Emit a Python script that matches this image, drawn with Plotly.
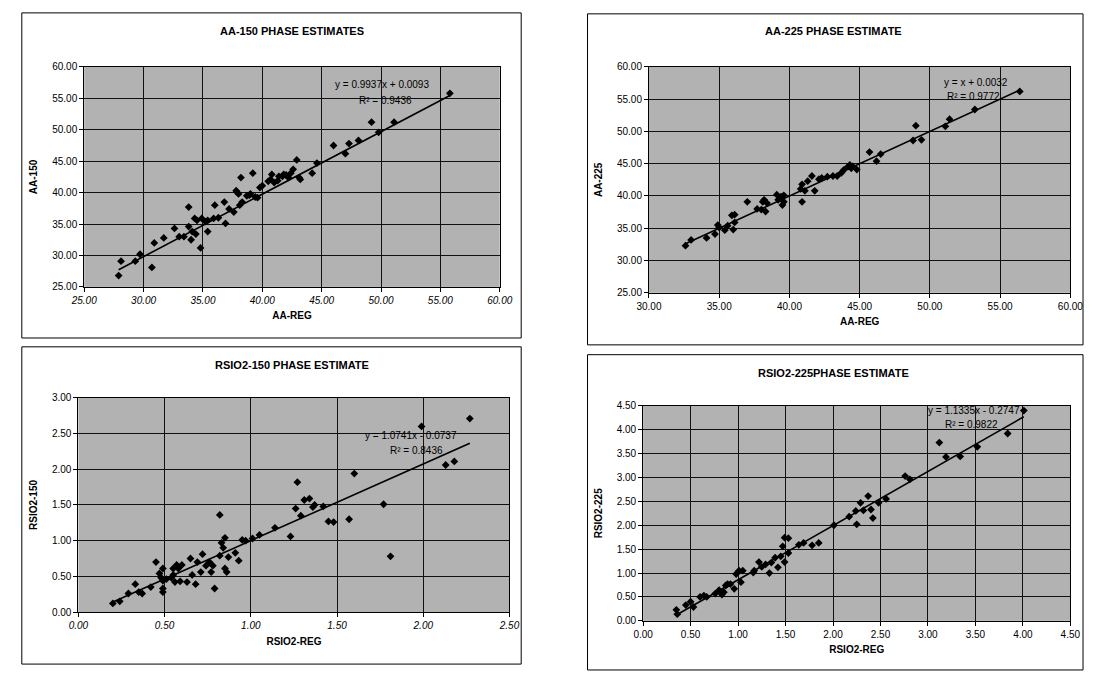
import plotly.graph_objects as go

W, H = 1097, 675

# ---------------- data ----------------
aa150_x = [27.9, 28.1, 29.3, 29.7, 30.7, 30.9, 31.7, 32.6, 33.0, 33.4, 33.8, 33.8, 34.0, 34.1, 34.3,
           34.4, 34.5, 34.8, 34.9, 35.4, 35.4, 35.9, 36.0, 36.9, 36.8, 37.2, 37.6, 37.8, 37.9, 38.0,
           38.1, 38.2, 38.3, 38.7, 38.9, 39.0, 39.2, 39.4, 39.8, 40.0, 40.5, 40.7, 40.8, 41.0, 41.4,
           41.7, 41.8, 42.2, 42.4, 42.6, 42.9, 43.1, 43.2, 44.2, 44.6, 46.0, 47.0, 47.3, 48.1, 49.2,
           49.8, 51.1, 55.8, 35.2, 36.3, 39.6, 41.3, 42.0]
aa150_y = [26.8, 29.1, 29.1, 30.2, 28.1, 32.0, 32.8, 34.3, 33.0, 33.0, 37.7, 34.6, 32.5, 33.8, 35.9,
           33.4, 35.6, 31.2, 35.9, 35.6, 33.8, 35.9, 38.0, 35.1, 38.5, 37.4, 36.9, 40.3, 40.0, 39.8,
           38.0, 42.4, 38.5, 39.5, 39.6, 39.8, 43.1, 39.3, 40.8, 41.1, 41.8, 42.1, 42.9, 41.6, 42.6,
           42.6, 42.9, 42.4, 43.1, 43.7, 45.2, 42.4, 42.1, 43.1, 44.7, 47.5, 46.2, 47.8, 48.3, 51.2,
           49.6, 51.2, 55.8, 35.4, 36.0, 39.2, 41.9, 42.8]

aa225_x = [32.6, 33.0, 34.1, 34.7, 34.9, 35.0, 35.4, 35.6, 35.9, 36.0, 36.1, 36.1, 37.0, 37.7, 38.0,
           38.1, 38.2, 38.3, 38.4, 39.1, 39.2, 39.4, 39.5, 39.6, 39.6, 40.9, 40.8, 40.9, 41.1, 41.3,
           41.6, 41.8, 42.1, 42.3, 42.7, 43.1, 43.4, 43.7, 43.9, 44.2, 44.3, 44.4, 44.5, 44.8, 45.7,
           46.2, 46.5, 48.8, 49.0, 49.4, 51.1, 51.4, 53.2, 56.4]
aa225_y = [32.3, 33.2, 33.5, 34.1, 35.5, 35.1, 34.7, 35.4, 37.0, 34.8, 37.1, 35.9, 39.1, 38.0, 37.9,
           39.1, 39.4, 37.6, 38.9, 40.2, 39.4, 39.9, 38.6, 39.1, 40.1, 39.1, 41.1, 41.8, 40.8, 42.3,
           43.1, 40.8, 42.6, 42.8, 43.0, 43.1, 43.1, 43.6, 44.1, 44.6, 44.8, 44.3, 44.6, 44.1, 46.8,
           45.4, 46.5, 48.6, 50.9, 48.7, 50.8, 51.9, 53.4, 56.2]

rs150_x = [0.20, 0.24, 0.29, 0.33, 0.35, 0.37, 0.42, 0.45, 0.47, 0.48, 0.49, 0.49, 0.49, 0.49, 0.51,
           0.54, 0.55, 0.55, 0.56, 0.57, 0.58, 0.59, 0.60, 0.63, 0.65, 0.66, 0.68, 0.69, 0.71, 0.72,
           0.74, 0.76, 0.77, 0.78, 0.79, 0.82, 0.82, 0.83, 0.84, 0.85, 0.85, 0.86, 0.87, 0.91, 0.93,
           0.95, 0.97, 1.01, 1.05, 1.14, 1.23, 1.26, 1.27, 1.29, 1.31, 1.34, 1.36, 1.37, 1.42, 1.45,
           1.48, 1.57, 1.60, 1.77, 1.81, 1.99, 2.13, 2.18, 2.27]
rs150_y = [0.12, 0.15, 0.26, 0.39, 0.28, 0.26, 0.35, 0.70, 0.54, 0.48, 0.44, 0.61, 0.33, 0.28, 0.46,
           0.48, 0.61, 0.52, 0.42, 0.66, 0.61, 0.43, 0.66, 0.42, 0.75, 0.52, 0.39, 0.70, 0.56, 0.81,
           0.65, 0.70, 0.56, 0.65, 0.33, 0.79, 1.36, 0.97, 0.90, 0.61, 1.04, 0.56, 0.77, 0.83, 0.72,
           1.01, 1.00, 1.03, 1.08, 1.18, 1.06, 1.45, 1.82, 1.35, 1.57, 1.59, 1.47, 1.50, 1.48, 1.27,
           1.26, 1.30, 1.94, 1.51, 0.78, 2.60, 2.06, 2.11, 2.71]

rs225_x = [0.35, 0.36, 0.45, 0.50, 0.53, 0.60, 0.64, 0.67, 0.76, 0.80, 0.83, 0.85, 0.87, 0.89, 0.92,
           0.96, 0.98, 1.01, 1.03, 1.05, 1.16, 1.17, 1.22, 1.25, 1.29, 1.33, 1.35, 1.39, 1.42, 1.45,
           1.47, 1.49, 1.49, 1.53, 1.53, 1.64, 1.69, 1.78, 1.85, 2.01, 2.17, 2.24, 2.25, 2.29, 2.32,
           2.37, 2.40, 2.42, 2.48, 2.56, 2.76, 2.81, 3.12, 3.19, 3.34, 3.52, 3.84, 4.01]
rs225_y = [0.23, 0.14, 0.33, 0.40, 0.29, 0.50, 0.53, 0.50, 0.57, 0.64, 0.55, 0.60, 0.74, 0.77, 0.77,
           0.67, 0.98, 1.05, 0.81, 1.05, 1.01, 1.05, 1.23, 1.13, 1.18, 1.00, 1.22, 1.32, 1.12, 1.35,
           1.56, 1.74, 1.23, 1.73, 1.42, 1.59, 1.63, 1.58, 1.63, 2.00, 2.18, 2.30, 2.02, 2.47, 2.31,
           2.61, 2.33, 2.15, 2.47, 2.55, 3.03, 2.96, 3.73, 3.43, 3.44, 3.64, 3.92, 4.40]

# trendline coefficients (slope, intercept) and labels as printed on the charts
fit_slopes = [0.9937, 1.0, 1.0741, 1.1335]
fit_intercepts = [0.0093, 0.0032, -0.0737, -0.2747]
eq_labels = ["y = 0.9937x + 0.0093", "y = x + 0.0032", "y = 1.0741x - 0.0737", "y = 1.1335x - 0.2747"]
r2_labels = ["R² = 0.9436", "R² = 0.9772", "R² = 0.8436", "R² = 0.9822"]

titles = ["AA-150 PHASE ESTIMATES", "AA-225 PHASE ESTIMATE", "RSIO2-150 PHASE ESTIMATE", "RSIO2-225PHASE ESTIMATE"]
x_titles = ["AA-REG", "AA-REG", "RSIO2-REG", "RSIO2-REG"]
y_titles = ["AA-150", "AA-225", "RSIO2-150", "RSIO2-225"]

# ---------------- layout geometry (pixels) ----------------
FONT = "Liberation Sans, Arial, sans-serif"
series = [(aa150_x, aa150_y), (aa225_x, aa225_y), (rs150_x, rs150_y), (rs225_x, rs225_y)]
plot_px = [(72, 498, 62, 286), (651, 1083, 62, 292), (66, 508, 399, 617), (645, 1083, 407, 626)]
frames_px = [(8, 520, 7, 338), (588, 1096, 8, 345), (8, 520, 347, 670), (588, 1096, 355, 676)]
xranges = [[25, 60], [30, 60], [0, 2.5], [0, 4.5]]
yranges = [[25, 60], [25, 60], [0, 3], [0, 4.5]]
dticks = [5, 5, 0.5, 0.5]
italic_x = [True, False, True, False]
title_pos = [(285, 25), (840, 25), (285, 366), (840, 374)]
eq_pos = [(50.1, 57.2, 50.4, 54.6), (53.3, 57.6, 53.1, 55.4), (1.93, 2.47, 1.96, 2.26), (3.48, 4.40, 3.46, 4.10)]

fig = go.Figure()
shapes, annotations = [], []
for i in range(4):
    sx = "" if i == 0 else str(i + 1)
    xs, ys = series[i]
    fig.add_trace(go.Scatter(x=xs, y=ys, mode="markers", xaxis="x" + sx, yaxis="y" + sx,
                             marker=dict(symbol="diamond", size=6, color="black"),
                             showlegend=False))
    x0, x1 = min(xs), max(xs)
    fig.add_trace(go.Scatter(x=[x0, x1],
                             y=[fit_slopes[i] * x0 + fit_intercepts[i], fit_slopes[i] * x1 + fit_intercepts[i]],
                             mode="lines", xaxis="x" + sx, yaxis="y" + sx,
                             line=dict(color="black", width=1.6), showlegend=False))
    l, r, t, b = plot_px[i]
    common = dict(showline=True, linecolor="black", linewidth=1, mirror=True,
                  showgrid=True, gridcolor="#111111", gridwidth=1, zeroline=False,
                  ticks="outside", ticklen=4, tickcolor="black", tickformat=".2f")
    fig.layout["xaxis" + sx] = dict(
        common, domain=[l / W, r / W], range=xranges[i], dtick=dticks[i], anchor="y" + sx,
        tickfont=dict(family=FONT, size=10, color="black", style="italic" if italic_x[i] else "normal"),
        title=dict(text="<b>" + x_titles[i] + "</b>", font=dict(family=FONT, size=10, color="black"), standoff=7))
    fig.layout["yaxis" + sx] = dict(
        common, domain=[1 - b / H, 1 - t / H], range=yranges[i], dtick=dticks[i], anchor="x" + sx,
        tickfont=dict(family=FONT, size=10, color="black"),
        title=dict(text="<b>" + y_titles[i] + "</b>", font=dict(family=FONT, size=10, color="black"), standoff=12))
    fl, fr, ft, fb = frames_px[i]
    shapes.append(dict(type="rect", xref="paper", yref="paper", x0=fl / W, x1=fr / W,
                       y0=1 - fb / H, y1=1 - ft / H, line=dict(color="black", width=1)))
    tx, ty = title_pos[i]
    annotations.append(dict(text="<b>" + titles[i] + "</b>", xref="paper", yref="paper", x=tx / W, y=1 - ty / H,
                            showarrow=False, xanchor="center", yanchor="middle",
                            font=dict(family=FONT, size=11, color="black")))
    ex, ey, rx, ry = eq_pos[i]
    annotations.append(dict(text=eq_labels[i], xref="x" + sx, yref="y" + sx, x=ex, y=ey, showarrow=False,
                            font=dict(family=FONT, size=10, color="black")))
    annotations.append(dict(text=r2_labels[i], xref="x" + sx, yref="y" + sx, x=rx, y=ry, showarrow=False,
                            font=dict(family=FONT, size=10, color="black")))

fig.update_layout(width=W, height=H, margin=dict(l=0, r=0, t=0, b=0),
                  paper_bgcolor="white", plot_bgcolor="#b2b2b2",
                  shapes=shapes, annotations=annotations, showlegend=False)
fig.write_html("out.html")
